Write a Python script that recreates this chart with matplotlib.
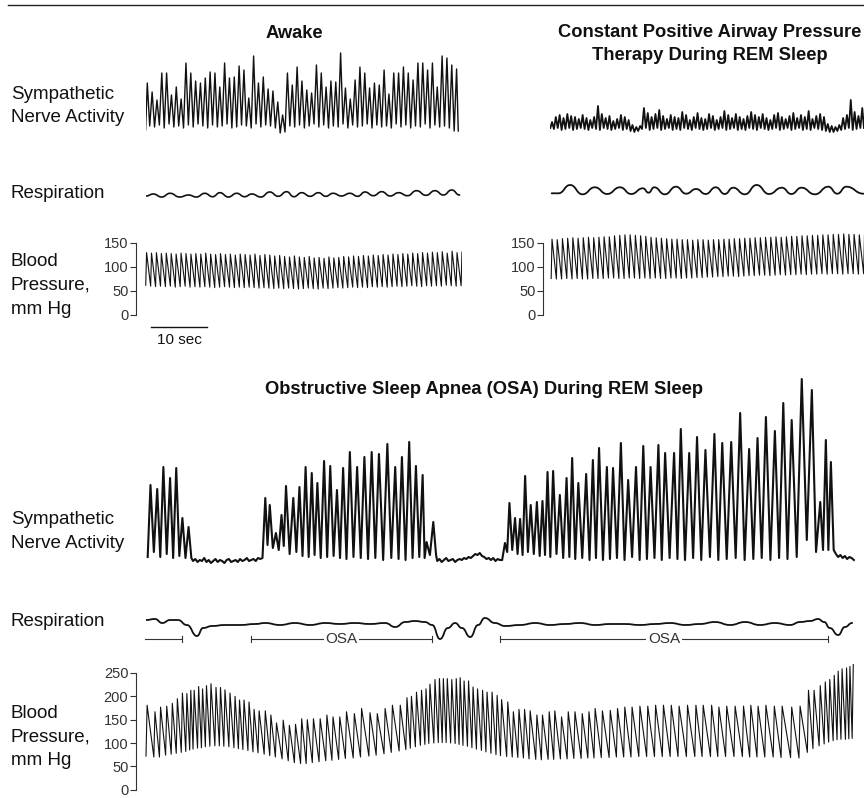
import numpy as np
import matplotlib.pyplot as plt
from matplotlib.path import Path
from matplotlib.patches import PathPatch
from matplotlib.lines import Line2D

plt.rcParams['font.family'] = ['Liberation Sans', 'DejaVu Sans']

# ---------------- data ----------------
# Awake: blood pressure per heartbeat (mm Hg)
awake_rr = 0.88      # s between beats
awake_t0 = 0.1
awake_sys = [130, 129, 130, 128, 129, 128, 127, 129, 128, 127,
             128, 127, 129, 127, 126, 128, 126, 127, 125, 127,
             126, 125, 127, 124, 126, 125, 123, 124, 122, 121,
             123, 121, 120, 122, 119, 120, 118, 121, 119, 120,
             122, 121, 123, 122, 124, 123, 125, 124, 126, 125,
             127, 126, 128, 127, 129, 128, 130, 129, 131, 130,
             132, 129, 133, 130, 131]
awake_dia = [62, 60, 59, 60, 59, 60, 58, 59, 60, 58,
             59, 58, 59, 58, 57, 58, 59, 58, 57, 58,
             57, 58, 57, 56, 57, 56, 55, 56, 55, 56,
             55, 54, 55, 56, 55, 54, 56, 55, 56, 57,
             56, 57, 58, 57, 58, 57, 59, 58, 59, 58,
             59, 60, 59, 60, 61, 60, 59, 61, 60, 61,
             60, 62, 61, 60, 61]
# Awake: sympathetic bursts (arbitrary units)
awake_sna_rr = 0.863
awake_sna_t0 = 0.23
awake_sna_peak = [47, 38, 30, 57, 57, 35, 43, 31, 67, 57,
                  49, 47, 52, 58, 57, 43, 67, 52, 53, 64,
                  60, 32, 74, 47, 53, 41, 39, 28, 15, 57,
                  45, 63, 49, 40, 37, 65, 57, 43, 49, 48,
                  77, 42, 31, 50, 63, 57, 42, 47, 45, 60,
                  36, 57, 57, 63, 57, 50, 67, 67, 60, 67,
                  43, 74, 72, 65, 61]
awake_sna_base = [0, 4, 3, 5, 2, 6, 3, 4, 2, 5,
                  3, 6, 4, 2, 5, 3, 4, 6, 2, 3,
                  5, 4, 2, 6, 3, 5, 4, 2, -3, -2,
                  4, 3, 5, 2, 4, 6, 3, 5, 2, 4,
                  3, 6, 2, 5, 3, 4, 6, 2, 5, 3,
                  4, 2, 6, 3, 5, 2, 4, 3, 6, 2,
                  5, 3, 4, 2, -1]
# Awake: respiration turning points (s, a.u.)
awake_resp_t = [0, 1.3, 2.8, 4.3, 6.0, 7.6, 9.0, 10.5, 11.9, 13.2,
                14.7, 16.2, 17.6, 18.9, 20.5, 22.1, 23.6, 25.1, 26.4, 27.8,
                29.3, 30.8, 32.1, 33.4, 34.9, 36.4, 37.8, 39.1, 40.6, 42.1,
                43.6, 45.1, 46.7, 48.3, 50.0, 51.6, 53.1, 54.6, 56.0]
awake_resp_v = [-2, 0, -3, 0.7, -3, -1, -3, 0.7, -2.7, 1.3,
                -3, 0.7, -2.7, 0, -3, 2, -2.3, 2.3, -2.7, 1.3,
                -2.3, 1.3, -2.3, 0.7, -2, 0.7, -2.3, 2, -1.7, 2.3,
                -2, 1.3, -1.7, 3.3, -1.3, 3.3, -1, 4, -1]

# CPAP during REM sleep
cpap_rr = 0.93
cpap_t0 = 0.36
cpap_sys = [158, 157, 159, 160, 161, 160, 161, 162, 161, 162,
            163, 163, 165, 166, 167, 167, 166, 165, 164, 162,
            161, 160, 159, 158, 158, 157, 157, 156, 157, 157,
            156, 157, 157, 158, 158, 159, 159, 160, 160, 161,
            161, 162, 162, 163, 162, 163, 164, 164, 165, 165,
            166, 166, 167, 167, 168, 168, 169, 168, 168, 167,
            168]
cpap_dia = [76, 75, 75, 76, 75, 76, 75, 75, 76, 76,
            76, 77, 77, 76, 76, 77, 77, 76, 77, 76,
            77, 76, 76, 77, 77, 76, 77, 77, 78, 78,
            79, 79, 80, 80, 81, 81, 80, 81, 82, 82,
            83, 83, 82, 83, 84, 83, 84, 84, 85, 84,
            85, 85, 86, 85, 86, 86, 85, 86, 86, 85,
            86]
cpap_sna_rr = 0.684
cpap_sna_t0 = 0.36
cpap_sna_peak = [8, 13, 15, 12, 16, 14, 13, 11, 15, 12,
                 10, 13, 24, 16, 12, 14, 9, 11, 15, 13,
                 10, 5, 3, 4, 22, 17, 13, 16, 20, 14,
                 11, 15, 13, 12, 18, 15, 10, 13, 17, 12,
                 11, 16, 14, 10, 13, 19, 15, 12, 16, 13,
                 11, 14, 18, 15, 13, 16, 12, 10, 15, 17,
                 13, 11, 14, 17, 12, 15, 13, 19, 11, 14,
                 16, 13, 6, 4, 3, 5, 12, 15, 30, 18,
                 14, 22]
cpap_sna_base = [2, 1, 2, 0, 1, 2, 0, 1, 2, 1,
                 0, 2, 1, 0, 2, 1, 0, 1, 2, 0,
                 1, -1, -2, -1, 1, 2, 0, 1, 2, 0,
                 1, 2, 0, 1, 0, 2, 1, 0, 2, 1,
                 0, 1, 2, 0, 1, 2, 0, 1, 2, 0,
                 1, 0, 2, 1, 0, 2, 1, 0, 1, 2,
                 0, 1, 2, 0, 1, 2, 0, 1, 0, 2,
                 1, 0, -1, -2, -2, -1, 0, 1, 2, 0,
                 1, 2]
cpap_resp_t = [0.3, 1.5, 3.6, 5.8, 8.0, 10.2, 12.5, 14.5, 16.6, 17.6,
               18.6, 20.5, 22.5, 24.3, 26.1, 27.8, 29.6, 31.2, 32.7, 34.8,
               36.9, 39.1, 41.4, 43.1, 44.9, 47.3, 49.7, 51.3, 52.9, 56.0]
cpap_resp_v = [0.7, 0.7, 9, -0.3, 6.7, 0, 6.7, 0, 5.7, 1.3,
               6.7, -0.3, 7.3, 0.3, 5, 0, 6.7, 0, 6.3, -0.3,
               9, 0, 6.3, 0, 6.3, -0.3, 7.3, 0.3, 7.3, 0.3]

# OSA during REM sleep: blood pressure per beat
osa_beat_t = [0.2, 1.6, 2.6, 3.7, 4.7, 5.6, 6.5, 7.3, 8.0, 8.6,
              9.4, 10.1, 10.8, 11.6, 12.5, 13.3, 14.1, 15.0, 15.9, 16.7,
              17.5, 18.4, 19.3, 20.2, 21.3, 22.3, 23.3, 24.5, 25.6, 26.7,
              27.8, 28.8, 29.9, 31.1, 32.3, 33.4, 34.6, 35.8, 37.2, 38.5,
              40.0, 41.3, 42.7, 44.0, 45.4, 46.6, 47.4, 48.3, 49.2, 50.0,
              50.7, 51.6, 52.4, 53.1, 53.8, 54.6, 55.4, 56.1, 56.8, 57.6,
              58.4, 59.2, 60.1, 60.9, 61.8, 62.7,
              63.5, 64.6, 65.6, 66.6, 67.6, 68.6, 69.8, 70.8, 72.0, 73.0,
              74.2, 75.4, 76.6, 77.9, 79.1, 80.2, 81.5, 82.9, 84.2, 85.5,
              86.8, 88.2, 89.6, 91.0, 92.4, 93.8, 95.2, 96.7, 98.2, 99.5,
              101.0, 102.3, 103.7, 105.2, 106.7, 108.0, 109.3, 110.7, 112.2, 113.6,
              115.3, 116.8, 118.3, 119.3, 120.4, 121.3, 122.1, 122.9, 123.6, 124.3,
              125.1, 125.7, 126.3]
osa_sys = [181, 167, 177, 179, 185, 195, 207, 206, 213, 213,
           221, 216, 223, 227, 219, 219, 214, 207, 200, 192,
           192, 188, 172, 169, 169, 160, 143, 149, 138, 140,
           152, 150, 152, 152, 160, 156, 156, 167, 163, 174,
           165, 163, 174, 181, 181, 197, 200, 209, 213, 216,
           226, 236, 238, 238, 238, 236, 238, 240, 233, 233,
           220, 216, 213, 209, 209, 202,
           193, 188, 167, 172, 172, 169, 160, 160, 167, 169,
           156, 167, 167, 163, 167, 174, 169, 170, 174, 177,
           177, 179, 179, 181, 181, 181, 179, 181, 181, 181,
           181, 177, 179, 179, 179, 181, 179, 181, 179, 179,
           177, 179, 213, 213, 223, 231, 236, 245, 254, 259,
           261, 264, 268]
osa_dia = [72, 70, 70, 74, 76, 78, 80, 82, 85, 87,
           89, 90, 92, 93, 94, 94, 93, 92, 90, 88,
           86, 84, 81, 79, 76, 73, 70, 66, 62, 58,
           56, 56, 58, 60, 62, 63, 65, 67, 68, 70,
           72, 74, 77, 80, 83, 86, 89, 92, 95, 97,
           99, 100, 101, 101, 101, 100, 99, 97, 95, 93,
           90, 87, 84, 81, 78, 75,
           73, 71, 70, 69, 68, 66, 65, 64, 65, 65,
           66, 66, 67, 67, 68, 68, 69, 69, 70, 70,
           70, 71, 71, 71, 71, 71, 71, 71, 71, 71,
           71, 71, 71, 71, 71, 70, 70, 70, 70, 69,
           69, 68, 80, 88, 94, 98, 102, 105, 107, 108,
           108, 109, 110]

# OSA: sympathetic bursts in three active stretches, flat noise between
osa_sna1_t = [0.8, 2.0, 3.1, 4.3, 5.4, 6.5, 7.6]
osa_sna1_peak = [75, 71, 93, 82, 92, 42, 33]
osa_sna1_base = [3, 8, 3, 6, 2, 4, 2]
osa_sna2_t = [21.3, 22.1, 23.2, 24.2, 25.0, 26.3, 27.4, 28.5, 29.6, 30.6,
              31.8, 32.9, 34.1, 35.2, 36.4, 37.7, 39.0, 40.3, 41.6, 43.1,
              44.5, 45.7, 47.0, 48.2, 49.4, 50.1, 51.3]
osa_sna2_peak = [62, 55, 27, 45, 74, 62, 73, 93, 87, 77,
                 99, 94, 70, 92, 108, 93, 103, 108, 106, 116,
                 93, 103, 118, 94, 85, 18, 38]
osa_sna2_base = [2, 15, 12, 10, 14, 6, 8, 4, 3, 5,
                 2, 3, 4, 2, 1, 3, 2, 1, 2, 0,
                 2, 1, 0, 2, 3, 2, 5]
osa_sna3_t = [64.1, 64.9, 65.9, 66.8, 67.7, 68.7, 69.8, 70.8, 71.7, 72.7,
              73.9, 75.1, 76.1, 77.2, 78.6, 79.8, 80.9, 82.3, 83.4, 84.8,
              86.1, 87.5, 88.8, 90.1, 91.5, 92.7, 94.3, 95.5, 97.0, 98.4,
              99.9, 101.5, 102.9, 104.5, 106.1, 107.7, 109.2, 110.7, 112.3, 113.8,
              115.3, 117.1, 118.9, 120.4, 121.4, 122.3]
osa_sna3_peak = [17, 57, 42, 41, 84, 55, 58, 59, 88, 89,
                 65, 82, 102, 77, 86, 100, 112, 93, 92, 117,
                 80, 93, 114, 93, 115, 107, 107, 131, 107, 123,
                 110, 126, 117, 118, 147, 111, 122, 143, 129, 157,
                 140, 181, 170, 58, 120, 98]
osa_sna3_base = [0, 8, 10, 6, 5, 8, 6, 4, 5, 3,
                 6, 2, 3, 1, 2, 0, 2, 0, 1, 2,
                 0, 3, 0, 1, 2, 0, 2, 1, 0, 2,
                 0, 3, 0, 1, 2, 0, 1, 2, 0, 2,
                 1, 3, 20, 8, 10, 10]
noise_step = 0.4
osa_noise1_t0, osa_noise1 = 8.4, [-1, 1, -2, 0, -1, 2, -2, 0, -3, -1, 1, -2, 0, -1, -3, 0,
                                  1, -2, -1, 0, -2, 1, -1, 0, 2, -1, 0, 1, -1, 2, 1]
osa_noise2_t0, osa_noise2 = 52.0, [-1, 1, -2, 0, 2, -1, 0, 1, -2, 0, 1, 0, 2, 1, 3,
                                   2, 4, 6, 5, 7, 4, 3, 1, 2, 0, 2, -1, 1, 0]
osa_noise3_t0, osa_noise3 = 123.2, [6, 3, 5, 2, 4, 1, 3, 2, 0]

osa_resp_t = [0, 1.6, 2.9, 4.3, 5.7, 7.3, 9.1, 10.2, 11.8, 14.1,
              16.8, 19.5, 21.3, 23.9, 26.6, 29.3, 32.0, 34.6, 37.3, 40.0,
              42.7, 44.5, 46.3, 48.0, 49.8, 51.1, 52.5, 53.9, 55.2, 56.4,
              57.9, 59.3, 60.5, 62.3, 64.1, 66.8, 69.5, 72.1, 74.8, 77.5,
              80.2, 82.9, 85.5, 88.2, 90.9, 93.6, 96.3, 98.9, 101.6, 104.3,
              107.0, 109.6, 112.3, 115.0, 116.8, 118.6, 120.0, 121.1, 122.1, 123.6,
              124.8, 126.1]
osa_resp_v = [10, 11, 7, 10, 10, 5, -6, 2, 4, 5,
              5, 6, 7, 5, 7, 5, 7, 6, 7, 6,
              7, 3, 8, 9, 8, 5, -9, 2, 7, 2,
              -7, 5, 12, 7, 4, 5, 7, 5, 6, 7,
              5, 6, 6, 5, 6, 7, 5, 6, 8, 5,
              8, 5, 7, 5, 8, 9, 11, 8, 2, -5,
              3, 7]
# apnea episodes (start, end) in seconds
osa_episodes = [(-0.2, 6.5), (18.7, 51.1), (63.2, 121.8)]
osa_labels = ['', 'OSA', 'OSA']

# ---------------- layout helpers ----------------
W, H = 864, 798
PX_PER_SEC = 5.6
INK = '#111111'

fig = plt.figure(figsize=(W / 100, H / 100), dpi=100)


def box(left, top, right, bottom):
    return fig.add_axes([left / W, 1 - bottom / H, (right - left) / W, (bottom - top) / H])


def trace_axes(left, top, right, bottom, x0, ylim):
    ax = box(left, top, right, bottom)
    ax.set_xlim(x0, x0 + (right - left) / PX_PER_SEC)
    ax.set_ylim(*ylim)
    ax.axis('off')
    return ax


def bp_axes(left, top, right, bottom, trace_left, px_per_mmhg, ticks):
    ax = box(left, top, right, bottom)
    x0 = -(trace_left - left) / PX_PER_SEC
    ax.set_xlim(x0, x0 + (right - left) / PX_PER_SEC)
    ax.set_ylim(0, (bottom - top) / px_per_mmhg)
    ax.set_facecolor('none')
    for s in ['top', 'right', 'bottom']:
        ax.spines[s].set_visible(False)
    ax.spines['left'].set_bounds(ticks[0], ticks[-1])
    ax.spines['left'].set_linewidth(0.8)
    ax.spines['left'].set_color('#333333')
    ax.set_xticks([])
    ax.set_yticks(ticks)
    ax.tick_params(axis='y', direction='out', length=4, width=0.8, pad=1.5,
                   labelsize=10.5, colors='#333333')
    return ax


def pulse(times, sys, dia, rise=0.2):
    ts, vs = [], []
    for t, s, d in zip(times, sys, dia):
        ts += [t - rise, t]
        vs += [d, s]
    return ts, vs


def bursts(times, peaks, bases, lead=0.5):
    ts, vs = [], []
    prev = None
    for t, p, b in zip(times, peaks, bases):
        tb = t - lead if prev is None else (prev + t) / 2
        ts += [tb, t]
        vs += [b, p]
        prev = t
    ts.append(prev + lead)
    vs.append(bases[-1])
    return ts, vs


def smooth(ax, ts, vs, lw):
    verts = [(ts[0], vs[0])]
    codes = [Path.MOVETO]
    for i in range(1, len(ts)):
        d = (ts[i] - ts[i - 1]) / 2
        verts += [(ts[i - 1] + d, vs[i - 1]), (ts[i] - d, vs[i]), (ts[i], vs[i])]
        codes += [Path.CURVE4] * 3
    ax.add_patch(PathPatch(Path(verts, codes), fill=False, lw=lw, ec=INK,
                           capstyle='round', joinstyle='round'))


def label(x, y, s, **kw):
    kw.setdefault('fontsize', 13.5)
    fig.text(x / W, 1 - y / H, s, color=INK, **kw)


# ---------------- top rule and titles ----------------
fig.add_artist(Line2D([8 / W, 1.0], [1 - 5 / H, 1 - 5 / H], lw=1.0, color='#222222'))
label(294.5, 33, 'Awake', ha='center', va='center', fontweight='bold', fontsize=13.2)
label(710, 44, 'Constant Positive Airway Pressure\nTherapy During REM Sleep',
      ha='center', va='center', fontweight='bold', fontsize=13.2, linespacing=1.41)
label(484, 390, 'Obstructive Sleep Apnea (OSA) During REM Sleep',
      ha='center', va='center', fontweight='bold', fontsize=13.2)

for yc_sna, yc_resp, yc_bp in [(106, 193, 285.5), (531.5, 621, 737)]:
    label(11, yc_sna, 'Sympathetic\nNerve Activity', ha='left', va='center', linespacing=1.5)
    label(11, yc_resp, 'Respiration', ha='left', va='center')
    label(11, yc_bp, 'Blood\nPressure,\nmm Hg', ha='left', va='center', linespacing=1.5)

# ---------------- Awake ----------------
awake_t = awake_t0 + awake_rr * np.arange(len(awake_sys))
awake_sna_t = awake_sna_t0 + awake_sna_rr * np.arange(len(awake_sna_peak))

ax = trace_axes(146, 45, 462, 140, 0, (-10, 85))
ax.plot(*bursts(awake_sna_t, awake_sna_peak, awake_sna_base, lead=0.3),
        color=INK, lw=1.0, solid_joinstyle='round')

ax = trace_axes(146, 180, 462, 205, 0, (-11, 14))
smooth(ax, awake_resp_t, awake_resp_v, 1.2)

ax = bp_axes(136, 231, 462, 315, 146, 0.48, [0, 50, 100, 150])
ax.plot(*pulse(awake_t, awake_sys, awake_dia, rise=0.15), color=INK, lw=0.8)
ax.plot([0.9, 10.9], [-25, -25], color=INK, lw=1.0, clip_on=False)
ax.text(5.9, -52, '10 sec', ha='center', va='center', fontsize=11, color=INK, clip_on=False)

# ---------------- CPAP ----------------
cpap_t = cpap_t0 + cpap_rr * np.arange(len(cpap_sys))
cpap_sna_t = cpap_sna_t0 + cpap_sna_rr * np.arange(len(cpap_sna_peak))

ax = trace_axes(550, 45, 864, 140, 0, (-10, 85))
ax.plot(*bursts(cpap_sna_t, cpap_sna_peak, cpap_sna_base, lead=0.3),
        color=INK, lw=1.3, solid_joinstyle='round')

ax = trace_axes(550, 180, 864, 205, 0, (-11, 14))
smooth(ax, cpap_resp_t, cpap_resp_v, 1.3)

ax = bp_axes(543, 231, 864, 315, 550, 0.48, [0, 50, 100, 150])
ax.plot(*pulse(cpap_t, cpap_sys, cpap_dia, rise=0.15), color=INK, lw=0.8)

# ---------------- OSA ----------------
ax = trace_axes(146, 370, 856, 570, 0, (-10, 190))
sna_t, sna_v = [], []
segments = [
    bursts(osa_sna1_t, osa_sna1_peak, osa_sna1_base),
    (list(osa_noise1_t0 + noise_step * np.arange(len(osa_noise1))), osa_noise1),
    bursts(osa_sna2_t, osa_sna2_peak, osa_sna2_base),
    (list(osa_noise2_t0 + noise_step * np.arange(len(osa_noise2))), osa_noise2),
    bursts(osa_sna3_t, osa_sna3_peak, osa_sna3_base),
    (list(osa_noise3_t0 + noise_step * np.arange(len(osa_noise3))), osa_noise3),
]
for ts, vs in segments:
    sna_t += list(ts)
    sna_v += list(vs)
ax.plot(sna_t, sna_v, color=INK, lw=1.5, solid_joinstyle='round')

ax = trace_axes(146, 605, 856, 650, 0, (-20, 25))
smooth(ax, osa_resp_t, osa_resp_v, 1.3)
bar_y, tick_h = -9, 3
for i, ((t0, t1), name) in enumerate(zip(osa_episodes, osa_labels)):
    ax.plot([t0, t1], [bar_y, bar_y], color='#333333', lw=0.8, clip_on=False)
    ends = [t1] if i == 0 else [t0, t1]
    for te in ends:
        ax.plot([te, te], [bar_y - tick_h, bar_y + tick_h], color='#333333', lw=0.8, clip_on=False)
    if name:
        ax.text((t0 + t1) / 2, bar_y, name, ha='center', va='center', fontsize=11,
                color='#333333', bbox=dict(boxstyle='square,pad=0.12', fc='white', ec='none'))

ax = bp_axes(136, 648, 856, 789.7, 146, 0.4668, [0, 50, 100, 150, 200, 250])
ax.plot(*pulse(osa_beat_t, osa_sys, osa_dia), color=INK, lw=0.8)

fig.savefig('out.png', dpi=100)
